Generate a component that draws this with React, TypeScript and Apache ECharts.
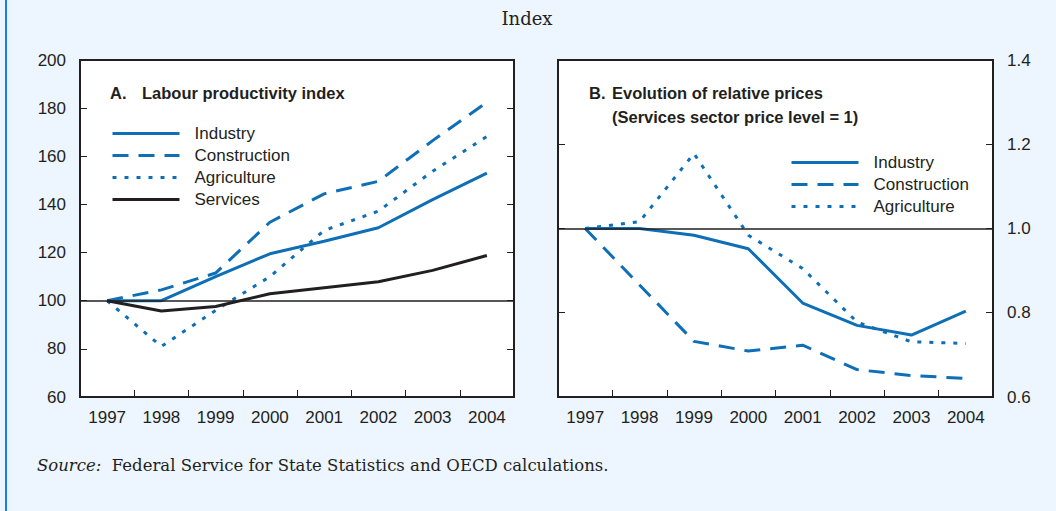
import React, { useEffect, useRef } from "react";
import * as echarts from "echarts";

const years = ["1997", "1998", "1999", "2000", "2001", "2002", "2003", "2004"];
const seriesNamesA = ["Industry", "Construction", "Agriculture", "Services"];
const seriesNamesB = ["Industry", "Construction", "Agriculture"];

const industryA = [100, 100, 110, 119.5, 124.7, 130.3, 142, 153];
const constructionA = [100, 104.5, 111.5, 132.6, 144.4, 149.6, 166.5, 182.4];
const agricultureA = [100, 81, 96, 110, 129.2, 137.2, 153.8, 168.2];
const servicesA = [100, 95.7, 97.6, 102.9, 105.4, 107.9, 112.6, 118.8];

const industryB = [1.0, 1.0, 0.984, 0.952, 0.823, 0.77, 0.747, 0.804];
const constructionB = [1.0, 0.866, 0.732, 0.709, 0.723, 0.665, 0.651, 0.644];
const agricultureB = [1.0, 1.016, 1.178, 0.984, 0.905, 0.778, 0.731, 0.727];

const BLUE = "#0E6FB6";
const DARK = "#231F20";
const SANS = "'Liberation Sans', Arial, sans-serif";
const SERIF = "'DejaVu Serif', serif";

export default function App() {
  const ref = useRef<HTMLDivElement>(null);
  useEffect(() => {
    if (!ref.current) return;
    const chart = echarts.init(ref.current, undefined, { renderer: "svg" });
    const axisLabel = { fontSize: 17, color: DARK, fontFamily: SANS };
    const tick = { show: true, inside: true, length: 7, lineStyle: { color: DARK, width: 1 } };
    const xAxisBase = {
      type: "category",
      data: years,
      boundaryGap: true,
      axisLine: { show: true, lineStyle: { color: DARK, width: 2 } },
      axisTick: tick,
      axisLabel: { ...axisLabel, margin: 12 },
      splitLine: { show: false },
    };
    const refLine = (v: number) => ({
      silent: true,
      symbol: ["none", "none"],
      label: { show: false },
      lineStyle: { color: DARK, width: 1.5, type: "solid" },
      data: [{ yAxis: v }],
    });
    const lineSeries = (name: string, data: number[], xi: number, yi: number, type: any, color = BLUE) => ({
      name,
      type: "line",
      xAxisIndex: xi,
      yAxisIndex: yi,
      data,
      symbol: "none",
      lineStyle: { color, width: 3, type },
      itemStyle: { color },
      z: 3,
    });
    const legendBase = {
      orient: "vertical",
      itemWidth: 67,
      itemHeight: 14,
      itemGap: 5,
      padding: 0,
      itemStyle: { opacity: 0, color: "rgba(0,0,0,0)", borderWidth: 0 },
      lineStyle: { width: 3 },
      textStyle: { fontSize: 17, color: DARK, fontFamily: SANS, padding: [0, 0, 0, 10] },
      selectedMode: false,
    };
    chart.setOption({
      animation: false,
      backgroundColor: "#EDF5FE",
      grid: [
        { left: 80, top: 60, width: 434, height: 337, show: true, backgroundColor: "#FFFFFF", borderColor: DARK, borderWidth: 2 },
        { left: 558, top: 60, width: 435, height: 337, show: true, backgroundColor: "#FFFFFF", borderColor: DARK, borderWidth: 2 },
      ],
      xAxis: [
        { ...xAxisBase, gridIndex: 0 },
        { ...xAxisBase, gridIndex: 1 },
      ],
      yAxis: [
        { type: "value", gridIndex: 0, position: "left", min: 60, max: 200, interval: 20, axisLine: { show: false }, axisTick: tick, axisLabel: { ...axisLabel, margin: 14 }, splitLine: { show: false } },
        { type: "value", gridIndex: 0, position: "right", min: 60, max: 200, interval: 20, axisLine: { show: false }, axisTick: tick, axisLabel: { show: false }, splitLine: { show: false } },
        { type: "value", gridIndex: 1, position: "left", min: 0.6, max: 1.4, interval: 0.2, axisLine: { show: false }, axisTick: tick, axisLabel: { show: false }, splitLine: { show: false } },
        { type: "value", gridIndex: 1, position: "right", min: 0.6, max: 1.4, interval: 0.2, axisLine: { show: false }, axisTick: tick, axisLabel: { ...axisLabel, margin: 14, formatter: (v: number) => v.toFixed(1) }, splitLine: { show: false } },
      ],
      legend: [
        { ...legendBase, data: seriesNamesA, left: 111, top: 125 },
        { ...legendBase, data: seriesNamesB, left: 790, top: 154 },
      ],
      series: [
        lineSeries(seriesNamesA[0], industryA, 0, 0, "solid"),
        lineSeries(seriesNamesA[1], constructionA, 0, 0, [16, 10]),
        lineSeries(seriesNamesA[2], agricultureA, 0, 0, [4, 8]),
        { ...lineSeries(seriesNamesA[3], servicesA, 0, 0, "solid", DARK), markLine: refLine(100) },
        { ...lineSeries(seriesNamesB[0], industryB, 1, 3, "solid"), markLine: refLine(1.0) },
        lineSeries(seriesNamesB[1], constructionB, 1, 3, [16, 10]),
        lineSeries(seriesNamesB[2], agricultureB, 1, 3, [4, 8]),
      ],
      graphic: [
        { type: "rect", shape: { x: 5, y: 0, width: 2, height: 511 }, style: { fill: "#1A7FE0" } },
        { type: "text", x: 527, y: 18, style: { text: "Index", font: `18px ${SERIF}`, fill: DARK, align: "center", verticalAlign: "middle" } },
        { type: "text", x: 110, y: 93, style: { text: "A.", font: `bold 16.5px ${SANS}`, fill: DARK, verticalAlign: "middle" } },
        { type: "text", x: 142, y: 93, style: { text: "Labour productivity index", font: `bold 16.5px ${SANS}`, fill: DARK, verticalAlign: "middle" } },
        { type: "text", x: 589, y: 93, style: { text: "B.", font: `bold 16.5px ${SANS}`, fill: DARK, verticalAlign: "middle" } },
        { type: "text", x: 612, y: 93, style: { text: "Evolution of relative prices", font: `bold 16.5px ${SANS}`, fill: DARK, verticalAlign: "middle" } },
        { type: "text", x: 612, y: 117, style: { text: "(Services sector price level = 1)", font: `bold 16.5px ${SANS}`, fill: DARK, verticalAlign: "middle" } },
        {
          type: "text",
          x: 37,
          y: 465,
          style: {
            text: "{i|Source:}  Federal Service for State Statistics and OECD calculations.",
            font: `16.5px ${SERIF}`,
            fill: DARK,
            verticalAlign: "middle",
            rich: { i: { fontStyle: "italic", fontFamily: SERIF, fontSize: 16.5, fill: DARK } },
          },
        },
      ],
    });
    return () => chart.dispose();
  }, []);
  return <div ref={ref} style={{ position: "fixed", left: 0, top: 0, width: 1056, height: 511 }} />;
}
